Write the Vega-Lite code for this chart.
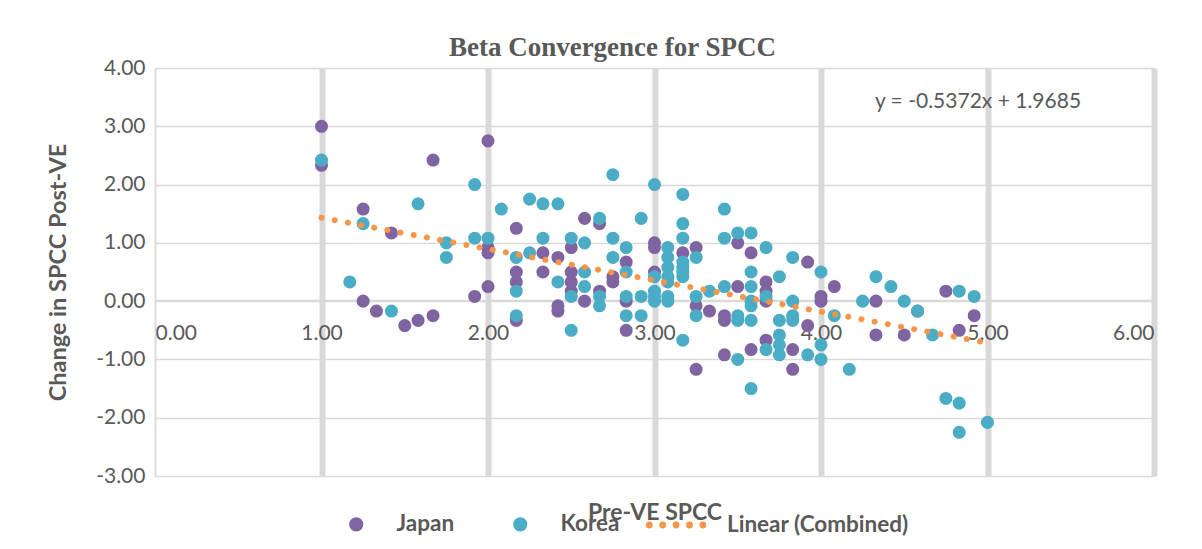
{
  "$schema": "https://vega.github.io/schema/vega-lite/v6.json",
  "width": 999,
  "height": 408,
  "autosize": {"type": "none"},
  "padding": {"left": 155, "top": 68, "right": 48, "bottom": 73},
  "background": "white",
  "title": {"text": "Beta Convergence for SPCC", "font": "Liberation Serif", "fontSize": 27, "fontWeight": "bold", "color": "#595959", "frame": "group", "anchor": "middle", "dx": -42, "offset": -26, "baseline": "alphabetic"},
  "config": {"view": {"stroke": null}, "font": "Lato"},
  "layer": [
    {
      "data": {"values": [
        {"series":"Japan","x":1.0,"y":3.0},{"series":"Japan","x":1.0,"y":2.33},{"series":"Japan","x":1.25,"y":1.58},{"series":"Japan","x":1.25,"y":0},{"series":"Japan","x":1.33,"y":-0.17},{"series":"Japan","x":1.42,"y":1.17},{"series":"Japan","x":1.5,"y":-0.42},{"series":"Japan","x":1.58,"y":-0.33},{"series":"Japan","x":1.67,"y":2.42},{"series":"Japan","x":1.67,"y":-0.25},{"series":"Japan","x":1.92,"y":0.08},{"series":"Japan","x":2.0,"y":2.75},{"series":"Japan","x":2.0,"y":0.92},{"series":"Japan","x":2.0,"y":0.83},{"series":"Japan","x":2.0,"y":0.25},{"series":"Japan","x":2.17,"y":1.25},{"series":"Japan","x":2.17,"y":0.5},{"series":"Japan","x":2.17,"y":0.33},{"series":"Japan","x":2.17,"y":-0.33},{"series":"Japan","x":2.33,"y":0.83},{"series":"Japan","x":2.33,"y":0.5},{"series":"Japan","x":2.42,"y":0.75},{"series":"Japan","x":2.42,"y":-0.08},{"series":"Japan","x":2.42,"y":-0.17},{"series":"Japan","x":2.5,"y":0.92},{"series":"Japan","x":2.5,"y":0.5},{"series":"Japan","x":2.5,"y":0.33},{"series":"Japan","x":2.5,"y":0.17},{"series":"Japan","x":2.58,"y":1.42},{"series":"Japan","x":2.58,"y":0},{"series":"Japan","x":2.67,"y":1.33},{"series":"Japan","x":2.67,"y":0.17},{"series":"Japan","x":2.75,"y":0.42},{"series":"Japan","x":2.75,"y":0.33},{"series":"Japan","x":2.83,"y":0.67},{"series":"Japan","x":2.83,"y":0},{"series":"Japan","x":2.83,"y":-0.5},{"series":"Japan","x":3.0,"y":1.0},{"series":"Japan","x":3.0,"y":0.92},{"series":"Japan","x":3.0,"y":0.5},{"series":"Japan","x":3.17,"y":0.83},{"series":"Japan","x":3.25,"y":0.92},{"series":"Japan","x":3.25,"y":-0.08},{"series":"Japan","x":3.25,"y":-1.17},{"series":"Japan","x":3.33,"y":-0.17},{"series":"Japan","x":3.42,"y":-0.25},{"series":"Japan","x":3.42,"y":-0.33},{"series":"Japan","x":3.42,"y":-0.92},{"series":"Japan","x":3.5,"y":1.0},{"series":"Japan","x":3.5,"y":0.25},{"series":"Japan","x":3.58,"y":0.83},{"series":"Japan","x":3.58,"y":-0.83},{"series":"Japan","x":3.67,"y":0.33},{"series":"Japan","x":3.67,"y":0.17},{"series":"Japan","x":3.67,"y":0},{"series":"Japan","x":3.67,"y":-0.67},{"series":"Japan","x":3.83,"y":-0.83},{"series":"Japan","x":3.83,"y":-1.17},{"series":"Japan","x":3.92,"y":0.67},{"series":"Japan","x":3.92,"y":-0.42},{"series":"Japan","x":4.0,"y":0.08},{"series":"Japan","x":4.0,"y":0},{"series":"Japan","x":4.08,"y":0.25},{"series":"Japan","x":4.33,"y":0},{"series":"Japan","x":4.33,"y":-0.58},{"series":"Japan","x":4.5,"y":-0.58},{"series":"Japan","x":4.58,"y":-0.17},{"series":"Japan","x":4.75,"y":0.17},{"series":"Japan","x":4.83,"y":-0.5},{"series":"Japan","x":4.92,"y":-0.25},
        {"series":"Korea","x":1.0,"y":2.42},{"series":"Korea","x":1.17,"y":0.33},{"series":"Korea","x":1.25,"y":1.33},{"series":"Korea","x":1.42,"y":-0.17},{"series":"Korea","x":1.58,"y":1.67},{"series":"Korea","x":1.75,"y":1.0},{"series":"Korea","x":1.75,"y":0.75},{"series":"Korea","x":1.92,"y":2.0},{"series":"Korea","x":1.92,"y":1.08},{"series":"Korea","x":2.0,"y":1.08},{"series":"Korea","x":2.08,"y":1.58},{"series":"Korea","x":2.17,"y":0.75},{"series":"Korea","x":2.17,"y":0.17},{"series":"Korea","x":2.17,"y":-0.25},{"series":"Korea","x":2.25,"y":1.75},{"series":"Korea","x":2.25,"y":0.83},{"series":"Korea","x":2.33,"y":1.67},{"series":"Korea","x":2.33,"y":1.08},{"series":"Korea","x":2.42,"y":1.67},{"series":"Korea","x":2.42,"y":0.33},{"series":"Korea","x":2.5,"y":1.08},{"series":"Korea","x":2.5,"y":0.08},{"series":"Korea","x":2.5,"y":-0.5},{"series":"Korea","x":2.58,"y":1.0},{"series":"Korea","x":2.58,"y":0.5},{"series":"Korea","x":2.58,"y":0.25},{"series":"Korea","x":2.67,"y":1.42},{"series":"Korea","x":2.67,"y":0.08},{"series":"Korea","x":2.67,"y":-0.08},{"series":"Korea","x":2.75,"y":2.17},{"series":"Korea","x":2.75,"y":1.08},{"series":"Korea","x":2.75,"y":0.75},{"series":"Korea","x":2.83,"y":0.92},{"series":"Korea","x":2.83,"y":0.5},{"series":"Korea","x":2.83,"y":0.08},{"series":"Korea","x":2.83,"y":-0.25},{"series":"Korea","x":2.92,"y":1.42},{"series":"Korea","x":2.92,"y":0.08},{"series":"Korea","x":2.92,"y":-0.25},{"series":"Korea","x":3.0,"y":2.0},{"series":"Korea","x":3.0,"y":0.42},{"series":"Korea","x":3.0,"y":0.17},{"series":"Korea","x":3.0,"y":0.08},{"series":"Korea","x":3.0,"y":0},{"series":"Korea","x":3.08,"y":0.92},{"series":"Korea","x":3.08,"y":0.75},{"series":"Korea","x":3.08,"y":0.58},{"series":"Korea","x":3.08,"y":0.42},{"series":"Korea","x":3.08,"y":0.33},{"series":"Korea","x":3.08,"y":0.08},{"series":"Korea","x":3.08,"y":0},{"series":"Korea","x":3.17,"y":1.83},{"series":"Korea","x":3.17,"y":1.33},{"series":"Korea","x":3.17,"y":1.08},{"series":"Korea","x":3.17,"y":0.67},{"series":"Korea","x":3.17,"y":0.58},{"series":"Korea","x":3.17,"y":0.5},{"series":"Korea","x":3.17,"y":0.42},{"series":"Korea","x":3.17,"y":-0.67},{"series":"Korea","x":3.25,"y":0.75},{"series":"Korea","x":3.25,"y":0.08},{"series":"Korea","x":3.25,"y":-0.25},{"series":"Korea","x":3.33,"y":0.17},{"series":"Korea","x":3.42,"y":1.58},{"series":"Korea","x":3.42,"y":1.08},{"series":"Korea","x":3.42,"y":0.25},{"series":"Korea","x":3.5,"y":1.17},{"series":"Korea","x":3.5,"y":-0.25},{"series":"Korea","x":3.5,"y":-0.33},{"series":"Korea","x":3.5,"y":-1.0},{"series":"Korea","x":3.58,"y":1.17},{"series":"Korea","x":3.58,"y":0.5},{"series":"Korea","x":3.58,"y":0.25},{"series":"Korea","x":3.58,"y":0},{"series":"Korea","x":3.58,"y":-0.08},{"series":"Korea","x":3.58,"y":-0.33},{"series":"Korea","x":3.58,"y":-1.5},{"series":"Korea","x":3.67,"y":0.92},{"series":"Korea","x":3.67,"y":0.08},{"series":"Korea","x":3.67,"y":-0.83},{"series":"Korea","x":3.75,"y":0.42},{"series":"Korea","x":3.75,"y":-0.33},{"series":"Korea","x":3.75,"y":-0.58},{"series":"Korea","x":3.75,"y":-0.75},{"series":"Korea","x":3.75,"y":-0.92},{"series":"Korea","x":3.83,"y":0.75},{"series":"Korea","x":3.83,"y":0},{"series":"Korea","x":3.83,"y":-0.25},{"series":"Korea","x":3.83,"y":-0.33},{"series":"Korea","x":3.92,"y":-0.92},{"series":"Korea","x":4.0,"y":0.5},{"series":"Korea","x":4.0,"y":-0.75},{"series":"Korea","x":4.0,"y":-1.0},{"series":"Korea","x":4.08,"y":-0.25},{"series":"Korea","x":4.17,"y":-1.17},{"series":"Korea","x":4.25,"y":0},{"series":"Korea","x":4.33,"y":0.42},{"series":"Korea","x":4.42,"y":0.25},{"series":"Korea","x":4.5,"y":0},{"series":"Korea","x":4.58,"y":-0.17},{"series":"Korea","x":4.67,"y":-0.58},{"series":"Korea","x":4.75,"y":-1.67},{"series":"Korea","x":4.83,"y":0.17},{"series":"Korea","x":4.83,"y":-1.75},{"series":"Korea","x":4.83,"y":-2.25},{"series":"Korea","x":4.92,"y":0.08},{"series":"Korea","x":5.0,"y":-2.08}
      ]},
      "mark": {"type": "circle", "size": 170, "opacity": 1},
      "encoding": {
        "x": {"field": "x", "type": "quantitative",
          "scale": {"domain": [0, 6], "nice": false, "zero": false},
          "axis": {"title": "Pre-VE SPCC", "values": [0,1,2,3,4,5,6],
            "labelExpr": "datum.value < 0 ? '-' + format(-datum.value, '.2f') : format(datum.value, '.2f')",
            "grid": true, "gridColor": "#D9D9D9",
            "gridWidth": {"condition": {"test": "datum.value === 0", "value": 1.5}, "value": 6},
            "domain": true, "domainColor": "#D9D9D9", "domainWidth": 1.5, "ticks": false,
            "offset": -176, "labelPadding": 22, "labelFontSize": 21, "labelColor": "#595959", "labelFont": "Lato",
            "titleFont": "Lato", "titleFontSize": 23, "titleFontWeight": "bold", "titleColor": "#595959",
            "titleY": 219, "titleBaseline": "alphabetic"}},
        "y": {"field": "y", "type": "quantitative",
          "scale": {"domain": [-3, 4], "nice": false},
          "axis": {"title": "Change in SPCC Post-VE", "values": [-3,-2,-1,0,1,2,3,4],
            "labelExpr": "datum.value < 0 ? '-' + format(-datum.value, '.2f') : format(datum.value, '.2f')",
            "grid": true, "gridColor": "#D9D9D9", "gridWidth": 1.5,
            "domain": true, "domainColor": "#D9D9D9", "domainWidth": 1.5, "ticks": false,
            "labelPadding": 10, "labelFontSize": 21, "labelColor": "#595959", "labelFont": "Lato",
            "titleFont": "Lato", "titleFontSize": 23.5, "titleFontWeight": "bold", "titleColor": "#595959", "titlePadding": 25}},
        "fill": {"field": "series", "type": "nominal",
          "scale": {"domain": ["Japan", "Korea"], "range": ["#8064A2", "#4BACC6"]},
          "legend": {"title": null, "orient": "none", "direction": "horizontal", "legendX": 190, "legendY": 445,
            "padding": 0, "labelFont": "Lato", "labelFontSize": 22.5, "labelFontWeight": "bold", "labelColor": "#595959",
            "labelOffset": 29, "columnPadding": 54, "symbolType": "circle", "symbolSize": 200, "symbolOpacity": 1, "symbolStrokeWidth": 0}}
      }
    },
    {
      "data": {"values": [
        {"series": "Linear (Combined)", "x": 1.0, "y": 1.4313},
        {"series": "Linear (Combined)", "x": 5.0, "y": -0.7175}
      ]},
      "mark": {"type": "line", "strokeWidth": 6, "strokeCap": "round", "strokeDash": [0.1, 13.3]},
      "encoding": {
        "x": {"field": "x", "type": "quantitative"},
        "y": {"field": "y", "type": "quantitative"},
        "stroke": {"field": "series", "type": "nominal",
          "scale": {"domain": ["Linear (Combined)"], "range": ["#F79646"]},
          "legend": {"title": null, "orient": "none", "direction": "horizontal", "legendX": 481, "legendY": 427,
            "padding": 0, "labelFont": "Lato", "labelFontSize": 22.5, "labelFontWeight": "bold", "labelColor": "#595959",
            "labelLimit": 400, "labelOffset": 31, "symbolSize": 3136, "symbolStrokeWidth": 3.4, "symbolOpacity": 1,
            "symbolFillColor": "#F79646",
            "symbolType": "M-0.657,0a0.06,0.06 0 1,0 0.12,0a0.06,0.06 0 1,0 -0.12,0ZM-0.179,0a0.06,0.06 0 1,0 0.12,0a0.06,0.06 0 1,0 -0.12,0ZM0.3,0a0.06,0.06 0 1,0 0.12,0a0.06,0.06 0 1,0 -0.12,0ZM0.779,0a0.06,0.06 0 1,0 0.12,0a0.06,0.06 0 1,0 -0.12,0ZM1.257,0a0.06,0.06 0 1,0 0.12,0a0.06,0.06 0 1,0 -0.12,0Z"}}
      }
    },
    {
      "data": {"values": [{"label": "y = -0.5372x + 1.9685"}]},
      "mark": {"type": "text", "font": "Lato", "fontSize": 21, "color": "#595959", "align": "center", "baseline": "middle"},
      "encoding": {
        "x": {"datum": 4.943, "type": "quantitative"},
        "y": {"datum": 3.42, "type": "quantitative"},
        "text": {"field": "label"}
      }
    }
  ]
}
